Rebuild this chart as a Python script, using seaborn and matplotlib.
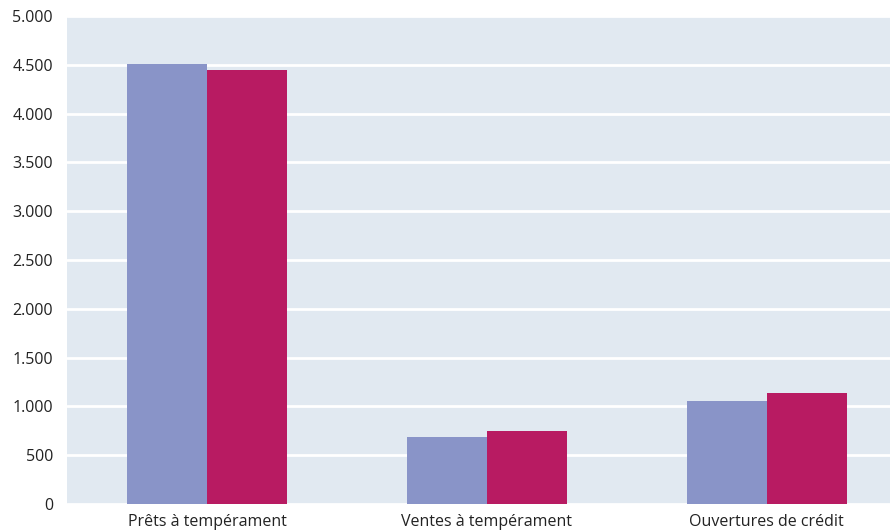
import matplotlib
matplotlib.use('Agg')
import matplotlib.pyplot as plt
import seaborn as sns
import pandas as pd
from matplotlib.ticker import FuncFormatter, MultipleLocator

categories = ['Prêts à tempérament', 'Ventes à tempérament', 'Ouvertures de crédit']
series_names = ['Série 1', 'Série 2']
values_s1 = [4510, 686, 1055]
values_s2 = [4445, 748, 1138]

df = pd.DataFrame({
    'categorie': categories * 2,
    'serie': [series_names[0]] * 3 + [series_names[1]] * 3,
    'valeur': values_s1 + values_s2,
})

sns.set_theme(style='white')
plt.rcParams['font.family'] = ['Open Sans', 'DejaVu Sans']

fig = plt.figure(figsize=(8.9, 5.32), dpi=100)
ax = fig.add_axes([67 / 890, 28 / 532, 823 / 890, 488 / 532])
ax.set_facecolor('#e1e9f1')

sns.barplot(data=df, x='categorie', y='valeur', hue='serie',
            palette=['#8994c8', '#b81b62'], width=0.572, gap=0,
            saturation=1, linewidth=0, legend=False, ax=ax)

ax.set_ylim(0, 5000)
ax.set_xlim(-0.5, 2.44)
ax.yaxis.set_major_locator(MultipleLocator(500))
ax.yaxis.set_major_formatter(FuncFormatter(lambda v, p: f'{v:,.0f}'.replace(',', '.')))
ax.grid(True, axis='y', color='white', linewidth=2)
ax.set_axisbelow(True)
for s in ax.spines.values():
    s.set_visible(False)
ax.tick_params(axis='both', length=0, labelsize=11.5, colors='#222222')
ax.tick_params(axis='y', pad=10)
ax.tick_params(axis='x', pad=7)
ax.set_xlabel('')
ax.set_ylabel('')

fig.savefig('out.png', dpi=100, facecolor='white')
